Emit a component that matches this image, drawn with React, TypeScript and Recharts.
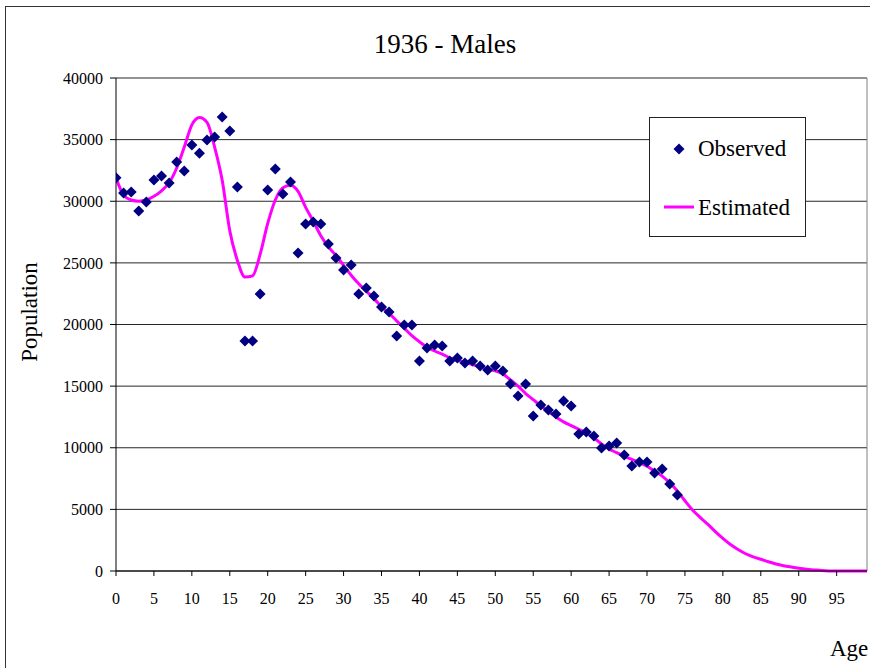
import {
  ComposedChart, Line, XAxis, YAxis, CartesianGrid, ReferenceLine
} from 'recharts'

// observed population by single year of age, 0..74
const observed = [
  31900, 30670, 30750, 29200, 29940, 31720, 32050, 31480, 33180, 32450,
  34560, 33900, 34970, 35210, 36840, 35700, 31160, 18660, 18660, 22470,
  30910, 32620, 30590, 31560, 25800, 28150, 28320, 28150, 26530, 25400,
  24420, 24830, 22470, 22960, 22310, 21420, 21010, 19070, 19960, 19960,
  17040, 18090, 18340, 18260, 17040, 17280, 16880, 17040, 16630, 16310,
  16630, 16230, 15170, 14200, 15170, 12580, 13470, 13060, 12740, 13790,
  13390, 11120, 11280, 10950, 9980, 10140, 10390, 9410, 8520, 8840,
  8840, 7950, 8280, 7060, 6170,
]

// fitted curve, 0..99
const estimated = [
  31900, 30500, 30100, 30000, 30100, 30400, 30850, 31500, 32700, 34400,
  36200, 36800, 36400, 34400, 31700, 27600, 25200, 23850, 23950, 25700,
  28200, 30100, 31100, 31300, 30800, 29500, 28400, 27200, 26300, 25600,
  24800, 24000, 23300, 22700, 22100, 21450, 20900, 20300, 19700, 19100,
  18600, 18150, 17850, 17600, 17300, 17100, 16950, 16750, 16550, 16400,
  16250, 15980, 15500, 15000, 14400, 13900, 13400, 12950, 12500, 12100,
  11800, 11500, 11200, 10800, 10300, 9900, 9600, 9300, 9050, 8800,
  8500, 8100, 7700, 7150, 6500, 5700, 4950, 4350, 3800, 3200,
  2650, 2150, 1750, 1400, 1150, 950, 750, 570, 430, 320,
  220, 140, 90, 40, 10, 0, 0, 0, 0, 0,
]

const ageTicks = [0, 5, 10, 15, 20, 25, 30, 35, 40, 45, 50, 55, 60, 65, 70, 75, 80, 85, 90, 95]
const popTicks = [0, 5000, 10000, 15000, 20000, 25000, 30000, 35000, 40000]

const data = estimated.map((est, age) => ({
  age,
  estimated: est,
  observed: age < observed.length ? observed[age] : null,
}))

const serif = '"Liberation Serif", "Times New Roman", serif'

const Diamond = (props: any) => {
  const { cx, cy, value } = props
  if (value == null || cx == null || cy == null) return <g key={props.key} />
  const r = 5.5
  return (
    <polygon
      key={props.key}
      points={`${cx},${cy - r} ${cx + r},${cy} ${cx},${cy + r} ${cx - r},${cy}`}
      fill="#000080"
    />
  )
}

const LegendBox = () => (
  <div style={{
    position: 'absolute', left: 649, top: 117, width: 155, height: 118,
    border: '1px solid #222', background: '#fff',
    fontFamily: serif, fontSize: 23, color: '#000'
  }}>
    <svg width={30} height={14} style={{ position: 'absolute', left: 14, top: 24 }}>
      <polygon points="15,1.5 20.5,7 15,12.5 9.5,7" fill="#000080" />
    </svg>
    <span style={{ position: 'absolute', left: 48, top: 18, lineHeight: '26px' }}>Observed</span>
    <svg width={30} height={6} style={{ position: 'absolute', left: 14, top: 86 }}>
      <line x1={0} y1={3} x2={30} y2={3} stroke="#FF00FF" strokeWidth={3} />
    </svg>
    <span style={{ position: 'absolute', left: 48, top: 77, lineHeight: '26px' }}>Estimated</span>
  </div>
)

export default function App() {
  return (
    <div style={{
      position: 'absolute', left: 0, top: 0, width: 870, height: 668,
      background: '#fff', overflow: 'hidden', fontFamily: serif
    }}>
      <div style={{
        position: 'absolute', left: 5, top: 6, width: 1000, height: 1000,
        border: '1px solid #333'
      }} />
      <div style={{
        position: 'absolute', left: 0, width: 890, top: 28, textAlign: 'center',
        fontSize: 27, lineHeight: '32px', color: '#000'
      }}>1936 - Males</div>
      <div style={{
        position: 'absolute', left: 30, top: 312, transform: 'translate(-50%, -50%) rotate(-90deg)',
        fontSize: 23, whiteSpace: 'nowrap', color: '#000'
      }}>Population</div>
      <div style={{
        position: 'absolute', left: 830, top: 636, fontSize: 23, lineHeight: '26px', color: '#000'
      }}>Age</div>

      <div style={{ position: 'absolute', left: 0, top: 0 }}>
        <ComposedChart
          width={870}
          height={668}
          data={data}
          margin={{ top: 78, right: 3, bottom: 67, left: 0 }}
        >
          <CartesianGrid vertical={false} stroke="#000" strokeOpacity={0.85} />
          <XAxis
            type="number"
            dataKey="age"
            domain={[0, 99]}
            ticks={ageTicks}
            allowDataOverflow
            height={30}
            stroke="#000"
            tickSize={5}
            tickMargin={17}
            tick={{ fill: '#000', fontSize: 16, fontFamily: serif }}
          />
          <YAxis
            domain={[0, 40000]}
            ticks={popTicks}
            width={116}
            stroke="#000"
            tickSize={6}
            tickMargin={7}
            tick={{ fill: '#000', fontSize: 16, fontFamily: serif }}
          />
          <ReferenceLine x={99} stroke="#808080" />
          <Line
            type="monotone"
            dataKey="estimated"
            stroke="#FF00FF"
            strokeWidth={3}
            dot={false}
            isAnimationActive={false}
            name="Estimated"
          />
          <Line
            dataKey="observed"
            stroke="none"
            dot={Diamond}
            activeDot={false}
            isAnimationActive={false}
            name="Observed"
          />
        </ComposedChart>
      </div>
      <LegendBox />
    </div>
  )
}
